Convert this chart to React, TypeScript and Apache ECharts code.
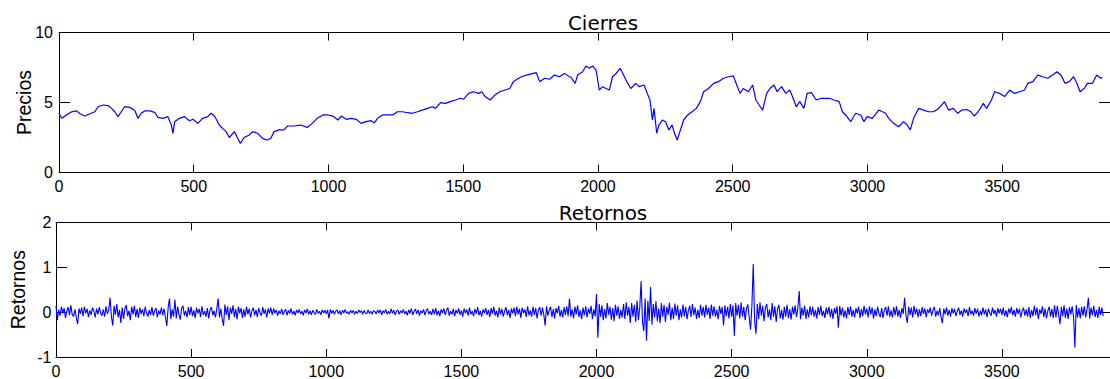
import React, { useEffect, useRef } from "react";
import * as echarts from "echarts";

// ---------- data ----------
const topTitle = "Cierres";
const bottomTitle = "Retornos";
const topYName = "Precios";
const bottomYName = "Retornos";

const xMin = 0;
const xMax = 3900;
const xStep = 500;

// Precios (cierres): observation index and value
const priceIdx = [
  0, 10, 28, 47, 65, 78, 96, 115, 133, 145,
  164, 182, 194, 207, 219, 231, 244, 262, 281, 293,
  305, 318, 336, 355, 367, 386, 404, 417, 423, 429,
  447, 466, 484, 497, 515, 533, 552, 564, 577, 595,
  607, 620, 632, 651, 663, 673, 687, 706, 718, 737,
  755, 774, 786, 798, 817, 835, 848, 872, 897, 921,
  940, 958, 980, 998, 1016, 1035, 1047, 1066, 1084, 1103,
  1121, 1139, 1158, 1170, 1182, 1201, 1219, 1238, 1256, 1275,
  1293, 1311, 1330, 1348, 1367, 1385, 1397, 1416, 1434, 1452,
  1471, 1489, 1501, 1520, 1538, 1557, 1569, 1581, 1600, 1618,
  1636, 1655, 1673, 1686, 1698, 1716, 1734, 1753, 1771, 1784,
  1802, 1820, 1839, 1857, 1876, 1894, 1900, 1915, 1925, 1943,
  1955, 1968, 1980, 1993, 2005, 2017, 2030, 2042, 2054, 2066,
  2082, 2095, 2107, 2122, 2140, 2152, 2171, 2183, 2193, 2202,
  2208, 2218, 2226, 2239, 2251, 2263, 2275, 2284, 2294, 2306,
  2318, 2333, 2349, 2365, 2380, 2392, 2410, 2429, 2447, 2466,
  2484, 2502, 2515, 2527, 2539, 2558, 2574, 2586, 2598, 2611,
  2626, 2638, 2653, 2665, 2681, 2697, 2712, 2724, 2736, 2749,
  2764, 2776, 2792, 2810, 2829, 2847, 2858, 2876, 2895, 2907,
  2919, 2938, 2956, 2975, 2987, 2999, 3018, 3042, 3067, 3079,
  3097, 3116, 3134, 3147, 3159, 3171, 3190, 3208, 3227, 3245,
  3264, 3286, 3301, 3319, 3335, 3350, 3368, 3384, 3396, 3411,
  3430, 3442, 3460, 3472, 3491, 3509, 3528, 3546, 3564, 3583,
  3595, 3614, 3632, 3650, 3669, 3687, 3703, 3718, 3733, 3749,
  3765, 3777, 3789, 3804, 3816, 3835, 3851, 3866, 3872,
];
const priceVal = [
  4.23, 3.87, 4.11, 4.34, 4.4, 4.2, 4.03, 4.2, 4.34, 4.7,
  4.82, 4.78, 4.6, 4.34, 3.99, 4.34, 4.7, 4.65, 4.45, 3.87,
  4.23, 4.4, 4.4, 4.3, 3.94, 3.87, 3.99, 3.39, 2.8, 3.63,
  3.87, 3.99, 3.7, 3.8, 3.51, 3.87, 3.99, 4.23, 4.03, 3.39,
  3.15, 2.92, 2.5, 2.92, 2.44, 2.08, 2.5, 2.68, 2.92, 2.8,
  2.44, 2.32, 2.44, 2.92, 3.04, 3.04, 3.32, 3.32, 3.39, 3.22,
  3.51, 3.87, 4.11, 4.11, 4.03, 3.75, 4.03, 3.8, 3.87, 3.8,
  3.51, 3.63, 3.7, 3.55, 3.87, 4.11, 4.11, 4.11, 4.34, 4.34,
  4.27, 4.23, 4.34, 4.46, 4.58, 4.7, 4.58, 4.99, 4.94, 5.06,
  5.18, 5.3, 5.23, 5.65, 5.77, 5.65, 5.77, 5.42, 5.18, 5.54,
  5.77, 5.89, 6.0, 6.49, 6.64, 6.84, 6.96, 7.04, 7.13, 6.49,
  6.73, 6.66, 6.96, 6.84, 7.08, 6.84, 6.8, 6.37, 6.96, 7.2,
  7.61, 7.44, 7.61, 7.32, 5.89, 6.13, 6.0, 5.89, 6.84, 7.04,
  7.44, 6.96, 6.49, 6.0, 6.37, 6.13, 6.25, 5.65, 5.18, 3.75,
  4.58, 2.8, 3.39, 3.75, 3.63, 3.04, 3.39, 2.8, 2.32, 3.04,
  3.75, 4.11, 4.34, 4.58, 5.06, 5.77, 6.0, 6.37, 6.49, 6.73,
  6.84, 6.9, 6.25, 5.65, 6.0, 5.77, 6.25, 5.18, 4.82, 4.46,
  5.65, 6.0, 6.25, 5.77, 6.13, 5.65, 5.89, 5.3, 4.7, 5.06,
  4.58, 5.65, 5.7, 5.18, 5.3, 5.3, 5.3, 5.18, 5.06, 4.34,
  4.11, 3.63, 4.23, 4.11, 3.63, 3.99, 3.87, 4.46, 4.23, 3.87,
  3.51, 3.27, 3.63, 3.39, 3.04, 3.87, 4.58, 4.46, 4.34, 4.34,
  4.58, 5.06, 4.46, 4.58, 4.23, 4.46, 4.5, 4.34, 4.03, 4.34,
  4.94, 4.58, 5.18, 5.77, 5.65, 5.42, 5.89, 5.65, 5.77, 5.89,
  6.37, 6.49, 6.96, 6.84, 6.73, 6.96, 7.2, 6.96, 6.37, 6.49,
  6.84, 6.37, 5.77, 6.0, 6.37, 6.37, 6.96, 6.73, 6.8,
];

// Retornos: one value every 5 observations (0, 5, 10, ... 3875)
const returnSpacing = 5;
const returnVal = [
  0.14, -0.18, 0.05, -0.08, 0.12, -0.03, 0.09, -0.13, 0.02, 0.11,
  -0.07, 0.15, -0.05, -0.1, 0.06, -0.12, -0.27, 0.08, -0.04, 0.1,
  -0.09, 0.12, -0.03, 0.07, -0.11, 0.04, -0.06, 0.1, 0.02, -0.12,
  0.08, -0.05, 0.11, -0.02, -0.08, 0.06, -0.1, 0.13, -0.04, 0.05,
  0.32, -0.1, -0.3, 0.14, -0.06, 0.18, -0.12, 0.05, -0.24, 0.1,
  -0.15, 0.08, 0.16, -0.09, 0.03, -0.18, 0.12, -0.05, 0.14, -0.11,
  0.07, -0.13, 0.1, -0.04, 0.06, -0.09, 0.12, -0.02, -0.1, 0.05,
  -0.06, 0.11, -0.08, 0.03, 0.09, -0.12, 0.04, -0.05, 0.1, -0.07,
  0.08, -0.12, -0.31, 0.1, 0.3, -0.16, 0.06, -0.1, 0.28, -0.14,
  0.12, -0.05, -0.17, 0.09, 0.14, -0.08, 0.03, -0.12, 0.11, -0.06,
  0.12, -0.09, 0.04, -0.13, 0.1, -0.03, 0.07, -0.11, 0.13, -0.06,
  0.02, -0.1, 0.09, -0.14, 0.05, 0.11, -0.07, 0.03, -0.12, 0.08,
  0.3, -0.12, 0.08, -0.15, -0.31, 0.17, -0.06, 0.13, -0.18, 0.1,
  -0.04, 0.15, -0.11, 0.07, -0.16, 0.12, -0.03, 0.09, -0.13, 0.06,
  -0.1, 0.12, -0.05, 0.08, -0.12, 0.03, 0.1, -0.07, 0.05, -0.11,
  0.09, -0.02, -0.08, 0.11, -0.04, 0.06, -0.12, 0.08, -0.03, 0.1,
  -0.06, 0.08, -0.02, 0.05, -0.08, 0.03, -0.04, 0.07, -0.06, 0.02,
  0.06, -0.07, 0.04, -0.03, 0.08, -0.05, 0.02, -0.07, 0.05, -0.02,
  0.06, -0.04, 0.02, -0.07, 0.05, -0.02, 0.07, -0.05, 0.03, -0.06,
  0.04, -0.01, -0.05, 0.06, -0.03, 0.02, -0.06, 0.05, -0.02, 0.04,
  -0.04, 0.05, -0.14, 0.06, -0.03, 0.04, -0.05, 0.02, 0.05, -0.04,
  0.03, -0.06, 0.04, -0.02, 0.06, -0.03, 0.01, -0.05, 0.04, -0.02,
  0.04, -0.05, 0.02, -0.03, 0.05, -0.01, 0.03, -0.05, 0.04, -0.02,
  -0.04, 0.05, -0.03, 0.02, -0.05, 0.03, 0.01, -0.04, 0.05, -0.02,
  0.05, -0.06, 0.03, -0.02, 0.06, -0.05, 0.02, -0.04, 0.07, -0.03,
  0.04, -0.06, 0.02, 0.05, -0.05, 0.03, -0.02, 0.06, -0.04, 0.02,
  -0.07, 0.05, -0.03, 0.08, -0.06, 0.02, 0.07, -0.04, 0.05, -0.08,
  0.03, -0.02, 0.06, -0.07, 0.04, 0.08, -0.05, 0.02, -0.06, 0.07,
  -0.05, 0.09, -0.07, 0.03, -0.09, 0.06, -0.02, 0.08, -0.06, 0.04,
  0.1, -0.08, 0.02, -0.05, 0.07, -0.09, 0.05, -0.03, 0.08, -0.06,
  0.04, -0.1, 0.08, -0.03, 0.06, -0.08, 0.1, -0.05, 0.02, -0.09,
  0.07, -0.04, 0.11, -0.07, 0.03, -0.1, 0.06, -0.02, 0.09, -0.06,
  0.05, -0.11, 0.09, -0.04, 0.12, -0.08, 0.03, -0.12, 0.1, -0.05,
  0.07, -0.1, 0.02, 0.11, -0.07, 0.05, -0.13, 0.08, -0.03, 0.1,
  -0.09, 0.12, -0.05, 0.08, -0.13, 0.1, -0.02, 0.06, -0.11, 0.13,
  -0.07, 0.04, -0.1, 0.12, -0.06, 0.09, -0.14, 0.05, 0.11, -0.08,
  0.1, -0.06, -0.3, 0.13, -0.08, 0.04, 0.12, -0.11, 0.07, -0.14,
  0.09, -0.03, 0.14, -0.1, 0.05, -0.12, 0.11, -0.06, 0.13, -0.09,
  0.3, -0.1, 0.06, -0.14, 0.12, -0.05, 0.15, -0.11, 0.04, -0.16,
  0.1, -0.07, 0.13, -0.12, 0.08, -0.04, 0.14, -0.15, 0.06, -0.09,
  0.4, -0.57, 0.18, -0.1, 0.15, -0.18, 0.07, -0.14, 0.2, -0.06,
  0.12, -0.17, 0.09, -0.2, 0.16, -0.08, 0.13, -0.15, 0.05, -0.12,
  0.18, -0.15, 0.22, -0.08, 0.12, -0.24, 0.2, -0.1, 0.16, -0.22,
  0.26, -0.18, 0.1, 0.69, -0.2, -0.42, 0.3, -0.64, 0.25, -0.2,
  0.56, -0.28, 0.18, -0.12, 0.24, -0.2, 0.08, -0.25, 0.2, -0.1,
  0.16, -0.22, 0.12, -0.06, 0.21, -0.18, 0.1, -0.15, 0.19, -0.08,
  0.15, -0.18, 0.06, -0.12, 0.17, -0.09, 0.12, -0.16, 0.04, 0.14,
  -0.11, 0.18, -0.07, 0.1, -0.15, 0.05, -0.13, 0.16, -0.08, 0.12,
  -0.12, 0.16, -0.06, 0.1, -0.15, 0.17, -0.08, 0.13, -0.1, 0.05,
  -0.16, 0.14, -0.04, 0.11, -0.3, 0.15, -0.09, 0.12, -0.14, 0.18,
  -0.1, 0.15, -0.53, 0.2, -0.08, 0.16, -0.14, 0.22, -0.1, 0.12,
  -0.18, 0.08, 0.17, -0.12, -0.39, 0.15, 1.07, -0.2, -0.48, 0.18,
  -0.15, 0.22, -0.08, 0.14, -0.2, 0.1, 0.18, -0.12, 0.06, -0.18,
  0.2, -0.1, 0.13, -0.22, 0.08, 0.16, -0.14, 0.05, -0.17, 0.12,
  -0.1, 0.16, -0.13, 0.07, -0.17, 0.12, -0.05, 0.15, -0.11, 0.09,
  0.47, -0.16, 0.1, -0.08, 0.14, -0.15, 0.06, -0.12, 0.13, -0.07,
  0.12, -0.1, 0.05, -0.14, 0.11, -0.06, 0.14, -0.09, 0.03, -0.13,
  0.1, -0.05, 0.12, -0.11, 0.07, -0.15, 0.09, -0.04, 0.13, -0.35,
  0.14, -0.08, 0.1, -0.12, 0.04, -0.14, 0.11, -0.06, 0.13, -0.1,
  0.05, -0.12, 0.09, -0.03, 0.12, -0.13, 0.07, -0.09, 0.14, -0.05,
  0.08, -0.12, 0.13, -0.05, 0.1, -0.14, 0.06, -0.09, 0.12, -0.03,
  -0.11, 0.09, -0.13, 0.05, 0.11, -0.08, 0.13, -0.1, 0.04, -0.12,
  0.11, -0.07, 0.13, -0.1, 0.05, -0.13, 0.09, -0.04, 0.32, -0.08,
  -0.24, 0.12, -0.06, 0.1, -0.12, 0.14, -0.05, 0.08, -0.11, 0.06,
  -0.09, 0.11, -0.04, 0.08, -0.11, 0.06, -0.02, 0.1, -0.08, 0.04,
  0.12, -0.1, 0.03, -0.07, 0.09, -0.12, -0.25, 0.08, -0.05, 0.1,
  -0.08, 0.05, -0.1, 0.09, -0.03, 0.07, -0.09, 0.02, 0.1, -0.06,
  0.04, -0.1, 0.08, -0.02, 0.06, -0.09, 0.11, -0.05, 0.03, -0.08,
  0.09, -0.04, 0.07, -0.1, 0.03, -0.07, 0.1, -0.05, 0.06, -0.11,
  0.08, -0.02, -0.08, 0.1, -0.04, 0.05, -0.1, 0.09, -0.03, 0.07,
  -0.06, 0.1, -0.09, 0.04, -0.11, 0.08, -0.03, 0.11, -0.07, 0.05,
  -0.1, 0.09, -0.04, 0.07, -0.12, 0.03, 0.1, -0.08, 0.06, -0.1,
  0.11, -0.13, 0.05, -0.09, 0.14, -0.07, 0.1, -0.15, 0.06, -0.04,
  0.13, -0.11, 0.08, -0.14, 0.03, 0.12, -0.1, 0.07, -0.13, 0.15,
  -0.12, 0.14, -0.06, -0.27, 0.12, -0.09, 0.15, -0.13, 0.08, -0.15,
  0.11, -0.05, 0.13, -0.1, -0.79, 0.16, -0.12, 0.09, -0.14, 0.12,
  -0.08, 0.13, -0.12, 0.06, 0.32, -0.14, 0.1, -0.07, 0.14, -0.11,
  0.05, -0.13, 0.12, -0.06, 0.1, -0.09,
];

const priceYMin = 0;
const priceYMax = 10;
const priceYStep = 5;
const retYMin = -1;
const retYMax = 2;
const retYStep = 1;

export default function App() {
  const ref = useRef<HTMLDivElement>(null);

  useEffect(() => {
    if (!ref.current) return;
    const chart = echarts.init(ref.current, null, { renderer: "svg" });

    const tickFont = {
      fontFamily: "Liberation Sans",
      fontSize: 16,
      color: "#000",
    };
    const nameFont = {
      fontFamily: "Liberation Sans",
      fontSize: 19.5,
      color: "#000",
    };
    const lineBlack = { color: "#000", width: 1 };
    const plain = (v: number) => String(v);

    const xAxisFor = (gridIndex: number, position: "top" | "bottom") => ({
      type: "value",
      gridIndex,
      position,
      min: xMin,
      max: xMax,
      interval: xStep,
      axisLine: { show: true, onZero: false, lineStyle: lineBlack },
      axisTick: { show: true, inside: true, length: 8, lineStyle: lineBlack },
      axisLabel: {
        show: position === "bottom",
        margin: 6,
        showMaxLabel: false,
        formatter: plain,
        ...tickFont,
      },
      splitLine: { show: false },
    });

    const yAxisFor = (
      gridIndex: number,
      position: "left" | "right",
      min: number,
      max: number,
      step: number,
      name: string,
      margin: number,
      nameGap: number
    ) => ({
      type: "value",
      gridIndex,
      position,
      min,
      max,
      interval: step,
      name: position === "left" ? name : "",
      nameLocation: "middle",
      nameGap,
      nameMoveOverlap: false,
      nameTextStyle: nameFont,
      axisLine: { show: true, onZero: false, lineStyle: lineBlack },
      axisTick: { show: true, inside: true, length: 11, lineStyle: lineBlack },
      axisLabel: { show: position === "left", margin, formatter: plain, ...tickFont },
      splitLine: { show: false },
    });

    const pricePts = priceIdx.map((t, i) => [t, priceVal[i]]);
    const retPts = returnVal.map((v, i) => [i * returnSpacing, v]);

    chart.setOption({
      animation: false,
      backgroundColor: "#fff",
      grid: [
        { left: 59, top: 32.5, width: 1059, height: 140, containLabel: false },
        { left: 54.3, top: 222.3, width: 1061, height: 135.4, containLabel: false },
      ],
      xAxis: [
        xAxisFor(0, "bottom"),
        xAxisFor(0, "top"),
        xAxisFor(1, "bottom"),
        xAxisFor(1, "top"),
      ],
      yAxis: [
        yAxisFor(0, "left", priceYMin, priceYMax, priceYStep, topYName, 6, 25),
        yAxisFor(0, "right", priceYMin, priceYMax, priceYStep, "", 6, 25),
        yAxisFor(1, "left", retYMin, retYMax, retYStep, bottomYName, 4.5, 28),
        yAxisFor(1, "right", retYMin, retYMax, retYStep, "", 4.5, 28),
      ],
      graphic: [
        {
          type: "text",
          x: 603,
          y: 23,
          style: {
            text: topTitle,
            font: "20px 'DejaVu Sans'",
            fill: "#000",
            align: "center",
            verticalAlign: "middle",
          },
        },
        {
          type: "text",
          x: 603,
          y: 212.5,
          style: {
            text: bottomTitle,
            font: "20px 'DejaVu Sans'",
            fill: "#000",
            align: "center",
            verticalAlign: "middle",
          },
        },
      ],
      series: [
        {
          type: "line",
          xAxisIndex: 0,
          yAxisIndex: 0,
          data: pricePts,
          showSymbol: false,
          symbol: "none",
          lineStyle: { color: "#0000ff", width: 1.2 },
          clip: true,
        },
        {
          type: "line",
          xAxisIndex: 2,
          yAxisIndex: 2,
          data: retPts,
          showSymbol: false,
          symbol: "none",
          lineStyle: { color: "#0000ff", width: 1.1 },
          clip: true,
        },
      ],
    });

    return () => chart.dispose();
  }, []);

  return (
    <div
      style={{
        position: "fixed",
        left: 0,
        top: 0,
        width: 1110,
        height: 379,
        overflow: "hidden",
        background: "#fff",
      }}
    >
      <div ref={ref} style={{ width: 1110, height: 379 }} />
    </div>
  );
}
